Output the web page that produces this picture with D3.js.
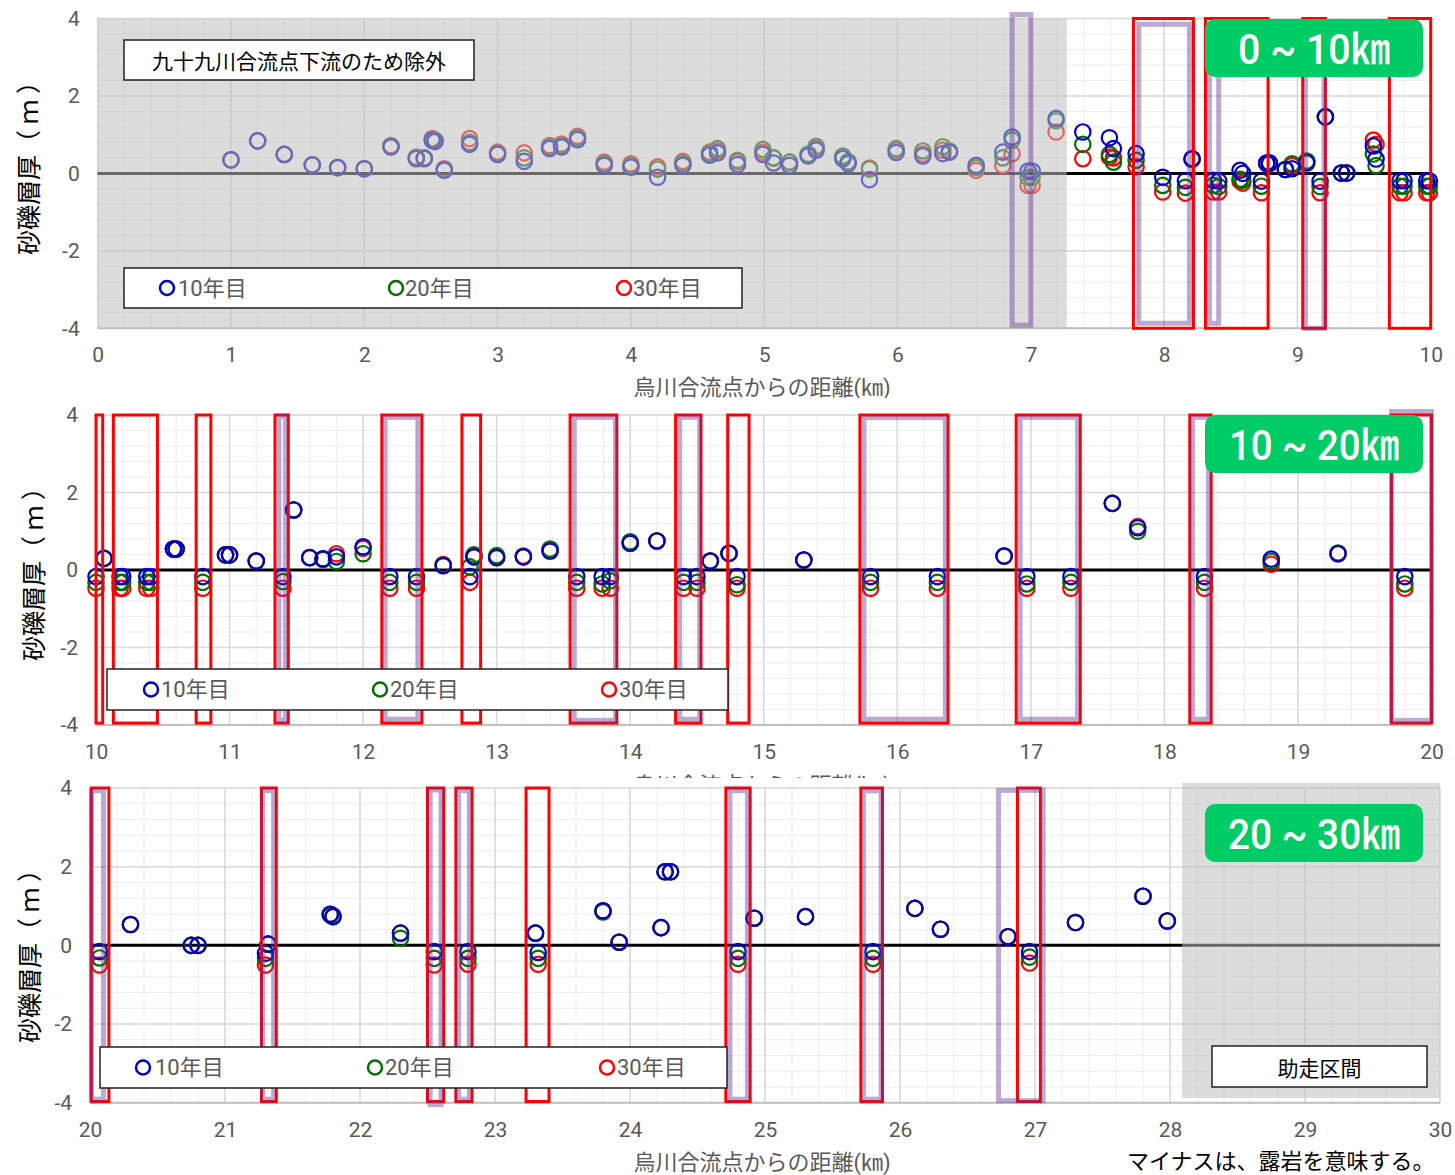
<!DOCTYPE html>
<html>
<head>
<meta charset="utf-8">
<script src="https://cdn.jsdelivr.net/npm/d3@7"></script>
<style>
body { margin: 0; background: #fff; }
svg text { font-family: Roboto, "Noto Sans CJK JP", sans-serif; }
</style>
</head>
<body>
<div id="chart"></div>
<script>
// ---- data: distance (km) and gravel layer thickness (m) for 10 / 20 / 30 years ----
const p1Km  = [1.00,1.20,1.40,1.61,1.80,2.00,2.20,2.39,2.45,2.51,2.53,2.60,2.79,3.00,3.20,3.39,3.48,3.60,3.80,4.00,4.20,4.39,4.59,4.65,4.80,4.99,5.07,5.19,5.33,5.39,5.59,5.63,5.79,5.99,6.19,6.34,6.39,6.59,6.79,6.86,6.98,7.01,7.19,7.39,7.59,7.62,7.79,7.99,8.16,8.21,8.37,8.41,8.57,8.59,8.73,8.77,8.79,8.91,8.96,9.07,9.17,9.21,9.33,9.37,9.57,9.59,9.77,9.80,9.97,9.99];
const p1Y10 = [0.35,0.84,0.49,0.22,0.15,0.12,0.68,0.38,0.38,0.85,0.82,0.08,0.75,0.49,0.31,0.64,0.68,0.87,0.21,0.16,-0.10,0.21,0.47,0.53,0.23,0.49,0.27,0.21,0.45,0.60,0.38,0.25,-0.16,0.54,0.45,0.51,0.55,0.21,0.55,0.94,0.06,0.06,1.42,1.07,0.92,0.64,0.51,-0.10,-0.19,0.38,-0.18,-0.20,0.08,0.00,-0.20,0.27,0.27,0.10,0.12,0.27,-0.20,1.46,0.01,0.01,0.71,0.37,-0.19,-0.19,-0.19,-0.19];
const p1Y20 = [0.35,0.84,0.49,0.22,0.15,0.12,0.70,0.40,0.40,0.87,0.84,0.10,0.80,0.52,0.40,0.68,0.72,0.92,0.25,0.20,0.11,0.26,0.52,0.64,0.34,0.62,0.40,0.29,0.50,0.70,0.45,0.30,0.11,0.64,0.58,0.69,0.58,0.15,0.40,0.86,-0.10,-0.10,1.36,0.75,0.49,0.29,0.34,-0.31,-0.36,0.38,-0.31,-0.34,-0.15,-0.18,-0.33,0.27,0.27,0.10,0.25,0.32,-0.34,1.46,0.01,0.01,0.50,0.20,-0.33,-0.33,-0.33,-0.33];
const p1Y30 = [0.35,0.84,0.49,0.22,0.15,0.12,0.72,0.42,0.40,0.90,0.86,0.12,0.90,0.55,0.53,0.72,0.76,0.96,0.29,0.25,0.17,0.31,0.55,0.58,0.30,0.55,0.40,0.29,0.47,0.65,0.42,0.30,0.14,0.60,0.50,0.60,0.55,0.08,0.21,0.51,-0.31,-0.31,1.07,0.38,0.42,0.40,0.17,-0.48,-0.51,0.36,-0.48,-0.48,-0.20,-0.25,-0.50,0.25,0.25,0.10,0.20,0.30,-0.50,1.46,0.01,0.01,0.86,0.75,-0.50,-0.50,-0.50,-0.50];

const p2Km  = [10.00,10.06,10.18,10.20,10.38,10.41,10.58,10.60,10.80,10.97,11.00,11.20,11.40,11.48,11.60,11.70,11.80,12.00,12.20,12.40,12.60,12.80,12.83,13.00,13.20,13.40,13.60,13.79,13.85,14.00,14.20,14.40,14.50,14.60,14.74,14.80,15.30,15.80,16.30,16.80,16.97,17.30,17.61,17.80,18.30,18.80,19.30,19.80];
const p2Y10 = [-0.17,0.30,-0.17,-0.17,-0.17,-0.17,0.54,0.54,-0.17,0.39,0.39,0.23,-0.17,1.55,0.32,0.29,0.34,0.60,-0.17,-0.17,0.11,-0.17,0.34,0.32,0.34,0.49,-0.17,-0.17,-0.17,0.69,0.75,-0.17,-0.17,0.23,0.43,-0.17,0.26,-0.17,-0.17,0.36,-0.17,-0.17,1.72,1.09,-0.17,0.28,0.42,-0.17];
const p2Y20 = [-0.32,0.30,-0.32,-0.32,-0.32,-0.32,0.54,0.54,-0.32,0.39,0.39,0.23,-0.30,1.55,0.32,0.27,0.22,0.42,-0.32,-0.32,0.13,0.08,0.39,0.37,0.34,0.54,-0.32,-0.36,-0.28,0.73,0.75,-0.32,-0.32,0.23,0.43,-0.38,0.26,-0.32,-0.32,0.36,-0.36,-0.32,1.72,1.00,-0.32,0.22,0.44,-0.36];
const p2Y30 = [-0.47,0.30,-0.47,-0.47,-0.47,-0.47,0.54,0.54,-0.47,0.39,0.39,0.23,-0.47,1.55,0.32,0.29,0.42,0.56,-0.47,-0.47,0.14,-0.32,0.34,0.32,0.36,0.49,-0.47,-0.47,-0.47,0.69,0.75,-0.47,-0.47,0.23,0.43,-0.47,0.26,-0.47,-0.47,0.36,-0.47,-0.47,1.72,1.12,-0.47,0.15,0.42,-0.47];

const p3Km  = [20.07,20.30,20.75,20.80,21.30,21.32,21.78,21.80,22.30,22.55,22.80,23.30,23.32,23.80,23.92,24.23,24.26,24.30,24.80,24.92,25.30,25.80,26.11,26.30,26.80,26.96,27.30,27.80,27.98];
const p3Y10 = [-0.16,0.53,0.00,0.00,-0.20,0.03,0.79,0.73,0.31,-0.16,-0.16,0.31,-0.18,0.88,0.08,0.45,1.87,1.87,-0.16,0.69,0.73,-0.16,0.94,0.41,0.22,-0.16,0.58,1.25,0.62];
const p3Y20 = [-0.32,0.53,0.00,0.00,-0.33,0.03,0.77,0.75,0.18,-0.33,-0.33,0.31,-0.33,0.85,0.08,0.45,1.87,1.87,-0.33,0.69,0.73,-0.33,0.94,0.41,0.22,-0.30,0.58,1.25,0.62];
const p3Y30 = [-0.50,0.53,0.00,0.00,-0.50,0.03,0.79,0.73,0.31,-0.50,-0.48,0.31,-0.48,0.88,0.08,0.45,1.87,1.87,-0.48,0.69,0.73,-0.48,0.94,0.41,0.22,-0.45,0.58,1.25,0.62];

// sections marked with boxes [from km, to km, top m, bottom m]
const p1Red    = [[7.77,8.22,4,-4],[8.31,8.78,4,-4],[9.04,9.21,4,-4],[9.69,10.0,4,-4]];
const p1Purple = [[6.86,7.00,4.1,-3.92],[7.81,8.19,3.85,-3.87],[8.34,8.41,3.85,-3.87],[9.06,9.20,3.85,-4.0]];
const p2Red    = [[10.0,10.05,4,-3.95],[10.13,10.46,4,-3.95],[10.75,10.86,4,-3.95],[11.34,11.44,4,-3.95],[12.14,12.44,4,-3.95],[12.74,12.88,4,-3.95],[13.55,13.90,4,-3.95],[14.34,14.53,4,-3.95],[14.73,14.89,4,-3.95],[15.72,16.38,4,-3.95],[16.89,17.37,4,-3.95],[18.19,18.35,4,-3.95],[19.70,20.0,4,-3.95]];
const p2Purple = [[11.37,11.42,3.97,-3.88],[12.165,12.41,3.94,-3.85],[13.58,13.89,3.94,-3.88],[14.37,14.52,3.94,-3.85],[15.75,16.36,3.93,-3.85],[16.92,17.35,3.94,-3.85],[18.21,18.33,3.94,-3.85],[19.70,20.0,4.09,-3.88]];
const p3Red    = [[20.01,20.14,4,-3.97],[21.27,21.38,4,-3.97],[22.50,22.62,4,-3.97],[22.71,22.83,4,-3.97],[23.23,23.40,4,-3.97],[24.71,24.89,4,-3.97],[25.71,25.87,4,-3.97],[26.87,27.04,4,-3.97]];
const p3Purple = [[20.01,20.10,3.93,-3.91],[21.28,21.36,3.93,-3.91],[22.52,22.60,3.95,-4.05],[22.73,22.81,3.93,-3.91],[24.74,24.87,3.93,-3.91],[25.73,25.86,3.93,-3.91],[26.73,27.06,3.94,-3.95]];

const yTicks = [-4, -2, 0, 2, 4];
const seriesNames = ['10年目', '20年目', '30年目'];
const seriesColors = ['#0000cc', '#007000', '#ff0000'];
const rangeLabels = ['0 ~ 10㎞', '10 ~ 20㎞', '20 ~ 30㎞'];
const xTitle = '烏川合流点からの距離(㎞)';
const yTitle = '砂礫層厚（ ｍ ）';

const svg = d3.select('#chart').append('svg')
  .attr('width', 1455).attr('height', 1175)
  .style('background', '#fff');

const panels = [
  { k0: 0, L: 97.7, R: 1430.7, T: 18.5, B: 328.3, km: p1Km, ys: [p1Y10, p1Y20, p1Y30],
    red: p1Red, purple: p1Purple, grey: [0, 7.27, 4, -4],
    legend: { box: [124, 268, 742, 308], cx: [167, 396, 624], tx: [178, 405, 633] },
    note: { box: [124, 40, 474, 80], text: '九十九川合流点下流のため除外' },
    badge: [1205, 19, 1423, 77, 152], ytx: 27, yty: 162, xty: 387 },
  { k0: 10, L: 96, R: 1431.5, T: 415, B: 725, km: p2Km, ys: [p2Y10, p2Y20, p2Y30],
    red: p2Red, purple: p2Purple, grey: null, bgTop: 398,
    legend: { box: [107, 669, 728, 710], cx: [151, 380, 609], tx: [161, 390, 619] },
    note: null,
    badge: [1205, 415, 1423, 473, 170], ytx: 32, yty: 568, xty: 785 },
  { k0: 20, L: 90, R: 1440, T: 788, B: 1102.7, km: p3Km, ys: [p3Y10, p3Y20, p3Y30],
    red: p3Red, purple: p3Purple, grey: [28.09, 30, 4.13, -3.88], bgTop: 778,
    legend: { box: [100, 1047, 727, 1088], cx: [143, 375, 607], tx: [155, 385, 617] },
    note: { box: [1212, 1046, 1427, 1087], text: '助走区間' },
    badge: [1205, 804, 1423, 862, 172], ytx: 28, yty: 950, xty: 1162 }
];

function drawPanel(p, pi) {
  const g = svg.append('g');
  if (p.bgTop != null) {
    g.append('rect').attr('x', 0).attr('y', p.bgTop)
      .attr('width', 1455).attr('height', 1175 - p.bgTop).attr('fill', '#fff');
  }
  const x = d3.scaleLinear().domain([p.k0, p.k0 + 10]).range([p.L, p.R]);
  const y = d3.scaleLinear().domain([-4, 4]).range([p.B, p.T]);

  // gridlines
  const minorX = d3.range(0, 51).map(i => p.k0 + i * 0.2);
  const minorY = d3.range(0, 21).map(i => -4 + i * 0.4);
  const majorX = d3.range(0, 11).map(i => p.k0 + i);
  g.append('g').selectAll('line').data(minorX).join('line')
    .attr('x1', d => x(d)).attr('x2', d => x(d)).attr('y1', p.T).attr('y2', p.B)
    .attr('stroke', '#ededed').attr('stroke-width', 1);
  g.append('g').selectAll('line').data(minorY).join('line')
    .attr('x1', p.L).attr('x2', p.R).attr('y1', d => y(d)).attr('y2', d => y(d))
    .attr('stroke', '#ededed').attr('stroke-width', 1);
  g.append('g').selectAll('line').data(majorX).join('line')
    .attr('x1', d => x(d)).attr('x2', d => x(d)).attr('y1', p.T).attr('y2', p.B)
    .attr('stroke', '#d9d9d9').attr('stroke-width', 1.5);
  g.append('g').selectAll('line').data(yTicks).join('line')
    .attr('x1', p.L).attr('x2', p.R).attr('y1', d => y(d)).attr('y2', d => y(d))
    .attr('stroke', '#d9d9d9').attr('stroke-width', 1.5);
  // bottom axis line
  g.append('line').attr('x1', p.L).attr('x2', p.R).attr('y1', y(-4)).attr('y2', y(-4))
    .attr('stroke', '#bfbfbf').attr('stroke-width', 2);
  // zero line
  g.append('line').attr('x1', p.L).attr('x2', p.R).attr('y1', y(0)).attr('y2', y(0))
    .attr('stroke', '#000').attr('stroke-width', 3);

  // points: 30, 20, 10 (10 on top)
  [2, 1, 0].forEach(si => {
    const pts = p.km.map((k, i) => [k, p.ys[si][i]]);
    g.append('g').selectAll('circle').data(pts).join('circle')
      .attr('cx', d => x(d[0])).attr('cy', d => y(d[1])).attr('r', 7.7)
      .attr('fill', 'none').attr('stroke', seriesColors[si]).attr('stroke-width', 2.2);
  });

  // grey excluded region
  if (p.grey) {
    g.append('rect')
      .attr('x', x(p.grey[0])).attr('y', y(p.grey[2]))
      .attr('width', x(p.grey[1]) - x(p.grey[0])).attr('height', y(p.grey[3]) - y(p.grey[2]))
      .attr('fill', 'rgba(191,191,191,0.55)');
  }

  // section boxes
  g.append('g').selectAll('rect').data(p.red).join('rect')
    .attr('x', d => x(d[0])).attr('y', d => y(d[2]))
    .attr('width', d => x(d[1]) - x(d[0])).attr('height', d => y(d[3]) - y(d[2]))
    .attr('fill', 'none').attr('stroke', '#ff0000').attr('stroke-width', 3);
  g.append('g').selectAll('rect').data(p.purple).join('rect')
    .attr('x', d => x(d[0])).attr('y', d => y(d[2]))
    .attr('width', d => x(d[1]) - x(d[0])).attr('height', d => y(d[3]) - y(d[2]))
    .attr('fill', 'none').attr('stroke', 'rgba(100,50,150,0.42)').attr('stroke-width', 5);

  // axes (labels only)
  const ax = g.append('g').attr('transform', `translate(0,${p.B})`)
    .call(d3.axisBottom(x).tickValues(majorX).tickSize(0).tickPadding(19).tickFormat(d => String(d)));
  const ay = g.append('g').attr('transform', `translate(${p.L},0)`)
    .call(d3.axisLeft(y).tickValues(yTicks).tickSize(0).tickPadding(18).tickFormat(d => String(d)));
  [ax, ay].forEach(a => {
    a.select('.domain').remove();
    a.attr('font-family', null).attr('font-size', null);
    a.selectAll('text').attr('font-size', 21).attr('fill', '#595959');
  });

  // axis titles
  g.append('text').attr('x', 762).attr('y', p.xty).attr('dominant-baseline', 'central')
    .attr('text-anchor', 'middle').attr('font-size', 22).attr('fill', '#595959').text(xTitle);
  g.append('text').attr('transform', `translate(${p.ytx},${p.yty}) rotate(-90)`)
    .attr('dominant-baseline', 'central').attr('text-anchor', 'middle')
    .attr('font-size', 25).attr('fill', '#000')
    .style('font-family', '"Noto Sans CJK JP", sans-serif').text(yTitle);

  // legend
  const lb = p.legend.box;
  g.append('rect').attr('x', lb[0]).attr('y', lb[1]).attr('width', lb[2] - lb[0]).attr('height', lb[3] - lb[1])
    .attr('fill', '#fff').attr('stroke', '#222').attr('stroke-width', 1.5);
  const cy = (lb[1] + lb[3]) / 2;
  seriesNames.forEach((name, i) => {
    g.append('circle').attr('cx', p.legend.cx[i]).attr('cy', cy).attr('r', 7)
      .attr('fill', 'none').attr('stroke', seriesColors[i]).attr('stroke-width', 2.5);
    g.append('text').attr('x', p.legend.tx[i]).attr('y', cy).attr('dominant-baseline', 'central')
      .attr('font-size', 22).attr('fill', '#595959').text(name);
  });

  // note box
  if (p.note) {
    const nb = p.note.box;
    g.append('rect').attr('x', nb[0]).attr('y', nb[1]).attr('width', nb[2] - nb[0]).attr('height', nb[3] - nb[1])
      .attr('fill', '#fff').attr('stroke', '#222').attr('stroke-width', 1.5);
    g.append('text').attr('x', (nb[0] + nb[2]) / 2).attr('y', (nb[1] + nb[3]) / 2)
      .attr('dominant-baseline', 'central').attr('text-anchor', 'middle')
      .attr('font-size', 21).attr('fill', '#000')
      .style('font-family', '"Noto Sans CJK JP", sans-serif').text(p.note.text);
  }

  // green range badge
  const b = p.badge;
  g.append('rect').attr('x', b[0]).attr('y', b[1]).attr('width', b[2] - b[0]).attr('height', b[3] - b[1])
    .attr('rx', 10).attr('fill', '#00cc66');
  g.append('text').attr('x', (b[0] + b[2]) / 2).attr('y', (b[1] + b[3]) / 2 + 1)
    .attr('dominant-baseline', 'central').attr('text-anchor', 'middle')
    .attr('font-size', 42).attr('font-weight', 500).attr('fill', '#fff')
    .attr('textLength', b[4]).attr('lengthAdjust', 'spacingAndGlyphs')
    .text(rangeLabels[pi]);
}

panels.forEach(drawPanel);

// footnote
svg.append('text').attr('x', 1127).attr('y', 1169).attr('font-size', 22).attr('fill', '#000')
  .style('font-family', '"Noto Sans CJK JP", sans-serif')
  .text('マイナスは、露岩を意味する。');
</script>
</body>
</html>
